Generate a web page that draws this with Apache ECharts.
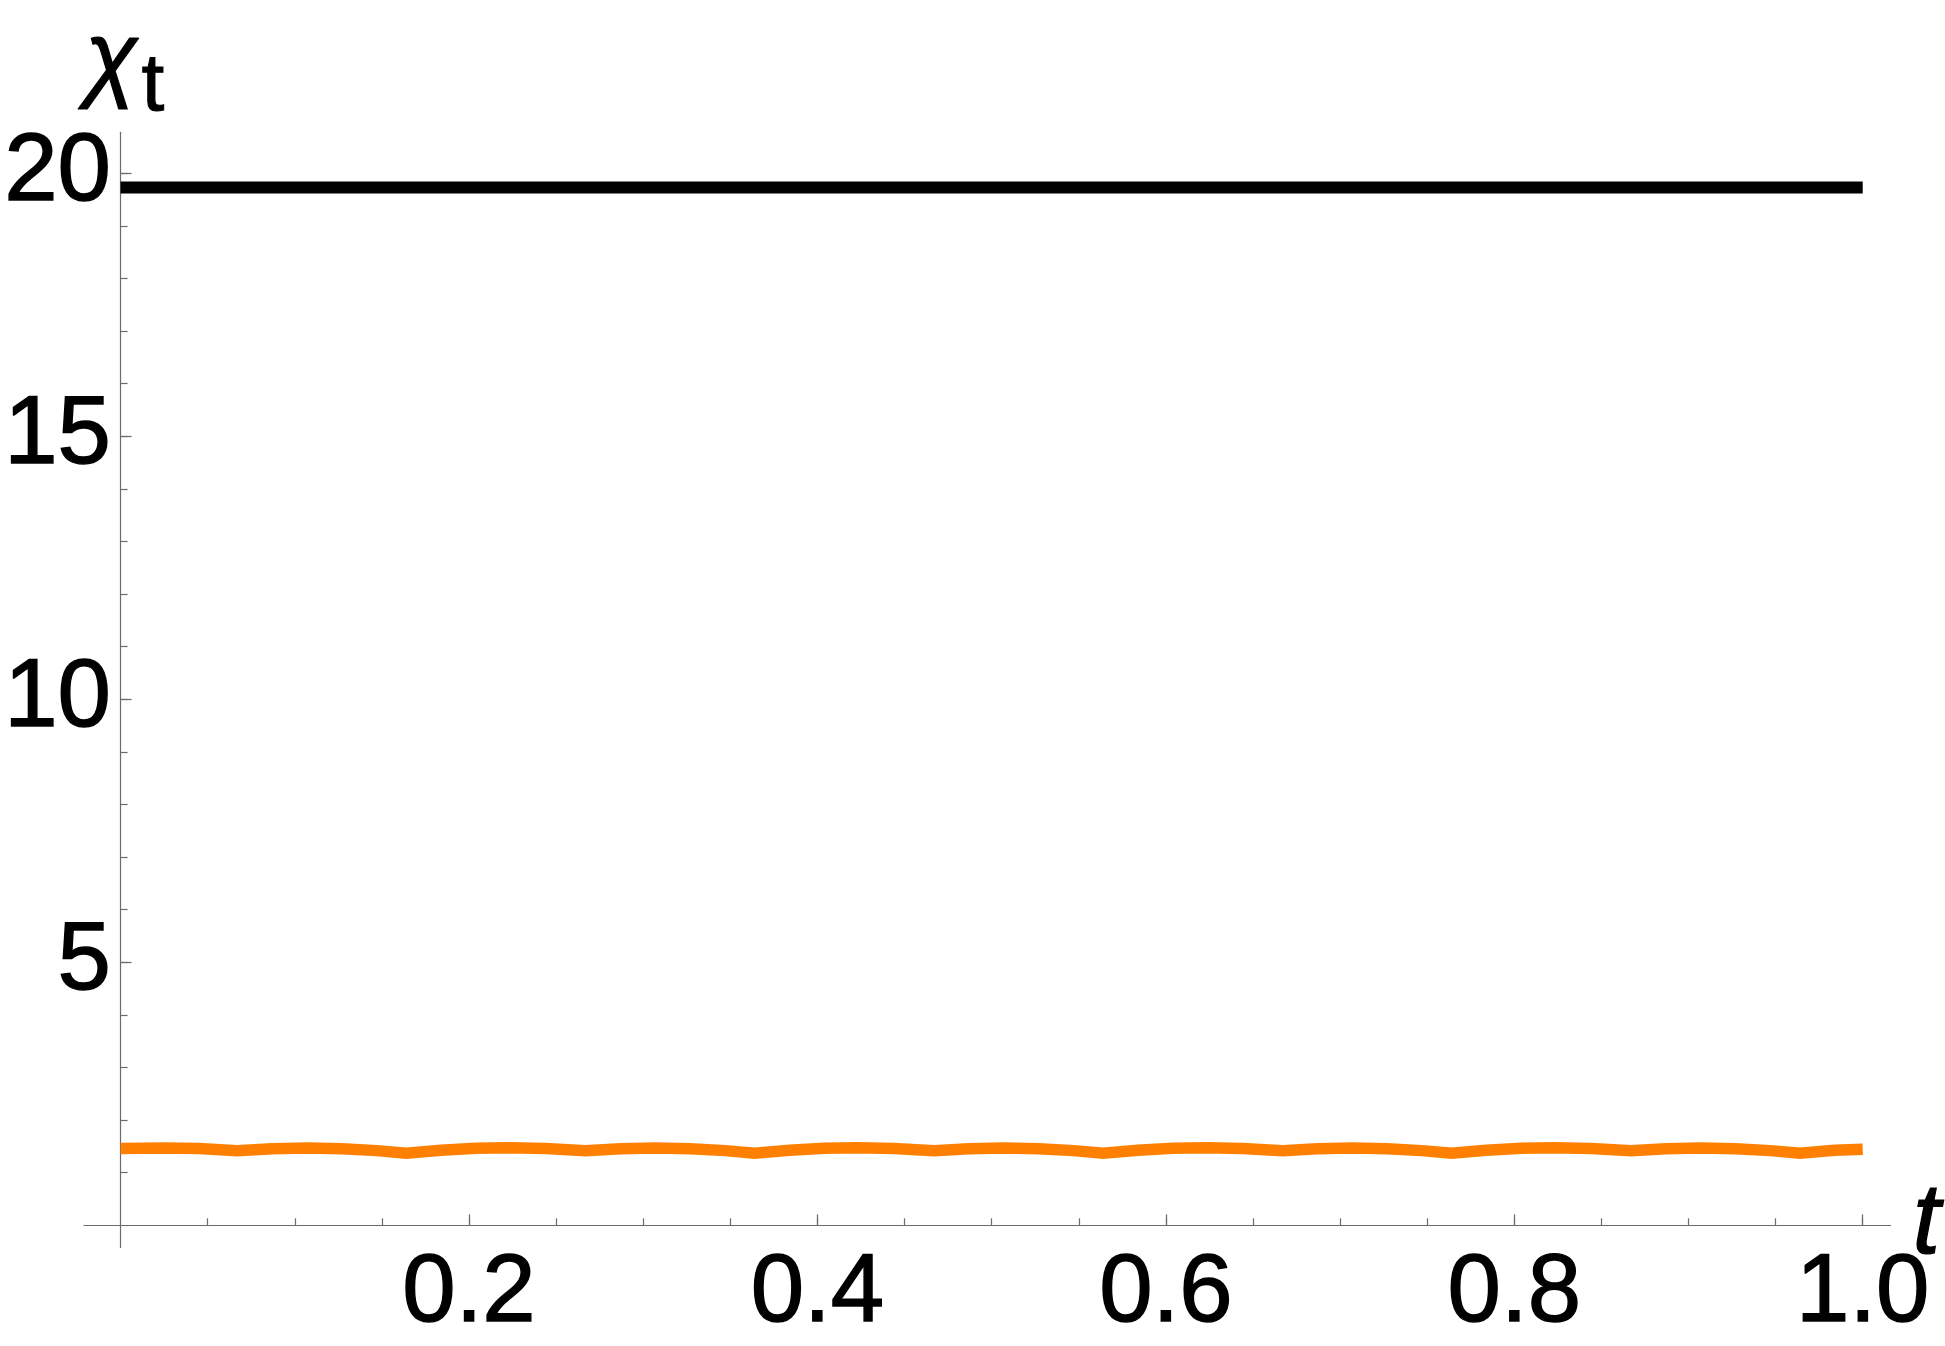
<!DOCTYPE html>
<html>
<head>
<meta charset="utf-8">
<style>
  html, body { margin: 0; padding: 0; background: #fff; }
  #main { width: 1945px; height: 1346px; }
</style>
<script src="https://cdn.jsdelivr.net/npm/echarts@6/dist/echarts.min.js"></script>
</head>
<body>
<div id="main"></div>
<script>
// black line (constant level)
var blackT = [0, 1];
var blackX = [19.73, 19.73];

// orange line
var orangeT = [0, 0.025, 0.045, 0.067, 0.087, 0.107, 0.127, 0.147, 0.164,
  0.184, 0.204, 0.223, 0.244, 0.267, 0.287, 0.307, 0.327, 0.347, 0.364,
  0.384, 0.404, 0.423, 0.444, 0.467, 0.487, 0.507, 0.527, 0.547, 0.564,
  0.584, 0.604, 0.623, 0.644, 0.667, 0.687, 0.707, 0.727, 0.747, 0.764,
  0.784, 0.804, 0.823, 0.844, 0.867, 0.887, 0.907, 0.927, 0.947, 0.964,
  0.984, 1.0];
var orangeX = [1.46, 1.472, 1.46, 1.418, 1.457, 1.47, 1.457, 1.42, 1.369,
  1.428, 1.465, 1.476, 1.462, 1.418, 1.457, 1.47, 1.457, 1.42, 1.369,
  1.428, 1.465, 1.476, 1.462, 1.418, 1.457, 1.47, 1.457, 1.42, 1.369,
  1.428, 1.465, 1.476, 1.462, 1.418, 1.457, 1.47, 1.457, 1.42, 1.369,
  1.428, 1.465, 1.476, 1.462, 1.418, 1.457, 1.47, 1.457, 1.42, 1.369,
  1.428, 1.448];

// ticks and labels
var xLabels = [0.2, 0.4, 0.6, 0.8, 1.0];
var xMinorTicks = [0.05, 0.1, 0.15, 0.2, 0.25, 0.3, 0.35, 0.4, 0.45, 0.5,
  0.55, 0.6, 0.65, 0.7, 0.75, 0.8, 0.85, 0.9, 0.95, 1.0];
var yLabels = [5, 10, 15, 20];
var yMinorTicks = [1, 2, 3, 4, 5, 6, 7, 8, 9, 10, 11, 12, 13, 14, 15, 16, 17, 18, 19, 20];

var xMin = -0.021, xMax = 1.016;
var yMin = -0.42, yMax = 20.78;

function pairs(a, b) {
  var out = [];
  for (var i = 0; i < a.length; i++) out.push([a[i], b[i]]);
  return out;
}

var axisGray = '#6b6b6b';
var labelFont = {
  fontFamily: 'Liberation Sans',
  fontSize: 96,
  color: '#000',
  textBorderColor: '#000',
  textBorderWidth: 1.4
};

var chart = echarts.init(document.getElementById('main'), null, { renderer: 'canvas' });

var option = {
  backgroundColor: '#fff',
  animation: false,
  grid: {
    left: 84,
    right: 54.4,
    top: 132.3,
    bottom: 98.6,
    containLabel: false,
    outerBoundsMode: 'none'
  },
  xAxis: [{
    type: 'value',
    min: xMin,
    max: xMax,
    position: 'bottom',
    splitLine: { show: false },
    axisLine: { show: true, onZero: true, lineStyle: { color: axisGray, width: 1.2 } },
    axisTick: { show: true, inside: true, length: 7, customValues: xMinorTicks,
      lineStyle: { color: axisGray, width: 1.2 } },
    axisLabel: Object.assign({ show: true, margin: -1, customValues: xLabels,
      formatter: function (v) { return v.toFixed(1); } }, labelFont),
    name: 't',
    nameLocation: 'end',
    nameGap: 22,
    nameMoveOverlap: false,
    nameTextStyle: { fontFamily: 'Liberation Sans', fontSize: 100, fontStyle: 'italic',
      color: '#000', verticalAlign: 'middle', textBorderColor: '#000', textBorderWidth: 1.2 }
  }, {
    type: 'value',
    min: xMin,
    max: xMax,
    position: 'bottom',
    splitLine: { show: false },
    axisLine: { show: false, onZero: true, onZeroAxisIndex: 1 },
    axisTick: { show: true, inside: true, length: 11, customValues: xLabels,
      lineStyle: { color: axisGray, width: 1.2 } },
    axisLabel: { show: false }
  }],
  yAxis: [{
    type: 'value',
    min: yMin,
    max: yMax,
    position: 'left',
    splitLine: { show: false },
    axisLine: { show: true, onZero: true, lineStyle: { color: axisGray, width: 1.2 } },
    axisTick: { show: true, inside: true, length: 7, customValues: yMinorTicks,
      lineStyle: { color: axisGray, width: 1.2 } },
    axisLabel: Object.assign({ show: true, margin: -27, customValues: yLabels }, labelFont),
    name: '{a|χ}{b|t}',
    nameLocation: 'end',
    nameGap: 22,
    nameMoveOverlap: false,
    nameTextStyle: {
      rich: {
        a: { fontFamily: 'Liberation Sans', fontSize: 96, fontStyle: 'italic', color: '#000',
          textBorderColor: '#000', textBorderWidth: 1.2,
          lineHeight: 96, padding: [0, 4, 0, 8] },
        b: { fontFamily: 'Liberation Sans', fontSize: 82, color: '#000',
          textBorderColor: '#000', textBorderWidth: 1,
          lineHeight: 82, padding: [51, 0, 0, 0] }
      }
    }
  }, {
    type: 'value',
    min: yMin,
    max: yMax,
    position: 'left',
    splitLine: { show: false },
    axisLine: { show: false, onZero: true, onZeroAxisIndex: 1 },
    axisTick: { show: true, inside: true, length: 11, customValues: yLabels,
      lineStyle: { color: axisGray, width: 1.2 } },
    axisLabel: { show: false }
  }],
  series: [{
    name: 'level',
    type: 'line',
    xAxisIndex: 0,
    yAxisIndex: 0,
    showSymbol: false,
    data: pairs(blackT, blackX),
    lineStyle: { color: '#000', width: 12, cap: 'butt' },
    z: 3
  }, {
    name: 'path',
    type: 'line',
    xAxisIndex: 0,
    yAxisIndex: 0,
    showSymbol: false,
    data: pairs(orangeT, orangeX),
    lineStyle: { color: '#ff8000', width: 11.5, cap: 'butt', join: 'miter' },
    z: 4
  }]
};

chart.setOption(option);
</script>
</body>
</html>
